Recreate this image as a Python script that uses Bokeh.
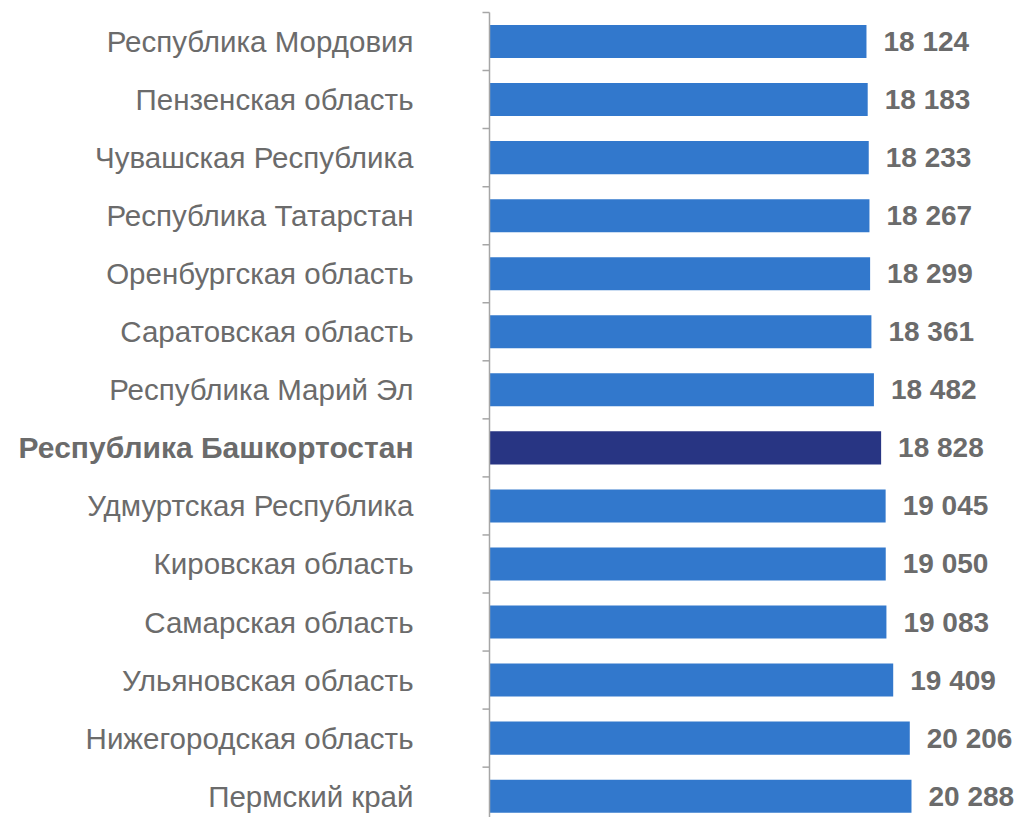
import numpy as np
from bokeh.plotting import figure
from bokeh.models import ColumnDataSource, Range1d
from bokeh.core.properties import value
from bokeh.embed import file_html
from bokeh.resources import INLINE

regions = ["Республика Мордовия", "Пензенская область", "Чувашская Республика",
           "Республика Татарстан", "Оренбургская область", "Саратовская область",
           "Республика Марий Эл", "Республика Башкортостан", "Удмуртская Республика",
           "Кировская область", "Самарская область", "Ульяновская область",
           "Нижегородская область", "Пермский край"]
values = [18124, 18183, 18233, 18267, 18299, 18361, 18482, 18828,
          19045, 19050, 19083, 19409, 20206, 20288]
highlight = "Республика Башкортостан"

BLUE = "#3278cc"
NAVY = "#283583"
GRAY = "#6b6b6b"
AXIS = "#a6a6a6"

pos = list(range(len(regions)))
colors = [NAVY if r == highlight else BLUE for r in regions]
styles = ["bold" if r == highlight else "normal" for r in regions]
sizes = ["30px" if r == highlight else "29.5px" for r in regions]
labels = [f"{v:,}".replace(",", " ") for v in values]
src = ColumnDataSource(dict(y=pos, v=values, c=colors, lab=labels, name=regions,
                            st=styles, fs=sizes, zero=[0] * len(pos)))

W, H = 1020, 817
axis_px = 489          # screen x of the value axis
px_per_unit = 0.0208
band = 58.05
top_px = 12            # screen y of the first category boundary

p = figure(width=W, height=H, output_backend="svg", toolbar_location=None,
           x_range=Range1d(-axis_px / px_per_unit, (W - axis_px) / px_per_unit),
           y_range=Range1d(-0.5 + (H - top_px) / band, -0.5 - top_px / band),
           min_border=0)
p.outline_line_color = None
p.grid.visible = False
p.axis.visible = False

p.hbar(y="y", right="v", left=0, height=0.57, fill_color="c",
       line_color=None, source=src)

# value axis line and category boundary ticks
n = len(regions)
p.segment(x0=[0], y0=[-0.5], x1=[0], y1=[n - 0.5], line_color=AXIS, line_width=1.5)
bounds = [i - 0.5 for i in range(n + 1)]
p.ray(x=[0] * len(bounds), y=bounds, length=7, length_units="screen",
      angle=np.pi, line_color=AXIS, line_width=1.5)

# category labels
p.text(x="zero", y="y", text="name", source=src, x_offset=-76,
       text_align="right", text_baseline="middle",
       text_font=value("Liberation Sans"), text_font_style="st",
       text_font_size="fs", text_color=GRAY)

# value labels
p.text(x="v", y="y", text="lab", source=src, x_offset=17,
       text_align="left", text_baseline="middle",
       text_font=value("Liberation Sans"), text_font_style="bold",
       text_font_size="28px", text_color=GRAY)

open("out.html", "w").write(file_html(p, INLINE))
